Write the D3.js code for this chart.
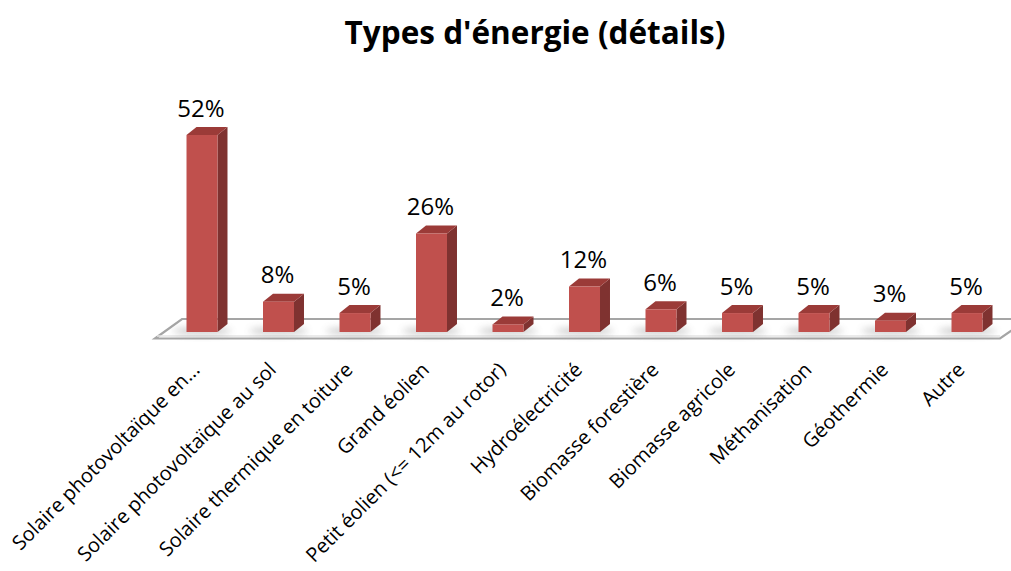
<!DOCTYPE html>
<html>
<head>
<meta charset="utf-8">
<script src="https://cdn.jsdelivr.net/npm/d3@7"></script>
<style>
  html, body { margin: 0; padding: 0; background: #fff; }
  svg { display: block; }
</style>
</head>
<body>
<svg id="chart" width="1011" height="571"></svg>
<script>
// Energy types, share of responses (%)
const categories = [
  "Solaire photovoltaïque en...",
  "Solaire photovoltaïque au sol",
  "Solaire thermique en toiture",
  "Grand éolien",
  "Petit éolien (<= 12m au rotor)",
  "Hydroélectricité",
  "Biomasse forestière",
  "Biomasse agricole",
  "Méthanisation",
  "Géothermie",
  "Autre"
];
const values = [52, 8, 5, 26, 2, 12, 6, 5, 5, 3, 5];
const valueLabels = ["52%", "8%", "5%", "26%", "2%", "12%", "6%", "5%", "5%", "3%", "5%"];
const title = "Types d'énergie (détails)";

const W = 1011, H = 571;
const svg = d3.select("#chart");

// layout of the plot area
const baseY = 332;            // front bottom of the bars
const depthX = 10, depthY = -8; // 3D depth offset of the bars
const fontFamily = "'Open Sans', 'DejaVu Sans', sans-serif";

const x = d3.scaleBand()
  .domain(categories)
  .range([163.75, 1005.25])
  .paddingInner(0.595)
  .paddingOuter(0.2975);

const y = d3.scaleLinear()
  .domain([0, 52])
  .range([baseY, 135]);

const defs = svg.append("defs");
defs.append("filter").attr("id", "soft")
  .attr("x", "-50%").attr("y", "-200%").attr("width", "200%").attr("height", "500%")
  .append("feGaussianBlur").attr("stdDeviation", 3.5);

// title
svg.append("text")
  .attr("x", 535).attr("y", 44)
  .attr("text-anchor", "middle")
  .style("font-family", fontFamily)
  .style("font-weight", "bold")
  .style("font-size", "31.5px")
  .attr("fill", "#000")
  .text(title);

// floor
const floorFront = 338.5, floorBack = 319;
const floorPts = [[155, floorFront], [182, floorBack], [1028, floorBack], [1000, floorFront]];
svg.append("polygon")
  .attr("points", floorPts.map(p => p.join(",")).join(" "))
  .attr("fill", "#fff")
  .attr("stroke", "#a5a5a5")
  .attr("stroke-width", 2.2)
  .attr("stroke-linejoin", "miter");
svg.append("line")
  .attr("x1", 157).attr("x2", 1000)
  .attr("y1", floorFront - 2.5).attr("y2", floorFront - 2.5)
  .attr("stroke", "#e4e4e4").attr("stroke-width", 1.5);

// soft shadows at the foot of the bars
svg.append("g").selectAll("ellipse")
  .data(categories)
  .join("ellipse")
  .attr("cx", d => x(d) + x.bandwidth() / 2)
  .attr("cy", baseY - 1)
  .attr("rx", x.bandwidth() * 0.95)
  .attr("ry", 3.5)
  .attr("fill", "#8a8a8a")
  .attr("opacity", 0.45)
  .attr("filter", "url(#soft)");

// 3D bars
const bars = svg.append("g").selectAll("g.bar")
  .data(categories.map((c, i) => ({ c, v: values[i], label: valueLabels[i] })))
  .join("g").attr("class", "bar");

bars.append("polygon") // right side face
  .attr("points", d => {
    const x1 = x(d.c) + x.bandwidth(), yt = y(d.v);
    return [[x1, baseY], [x1 + depthX, baseY + depthY], [x1 + depthX, yt + depthY], [x1, yt]]
      .map(p => p.join(",")).join(" ");
  })
  .attr("fill", "#7f3230");

bars.append("polygon") // top face
  .attr("points", d => {
    const x0 = x(d.c), x1 = x0 + x.bandwidth(), yt = y(d.v);
    return [[x0, yt], [x0 + depthX, yt + depthY], [x1 + depthX, yt + depthY], [x1, yt]]
      .map(p => p.join(",")).join(" ");
  })
  .attr("fill", "#9b3b38");

bars.append("rect") // front face
  .attr("x", d => x(d.c))
  .attr("y", d => y(d.v))
  .attr("width", x.bandwidth())
  .attr("height", d => baseY - y(d.v))
  .attr("fill", "#c0504d");

// value labels
bars.append("text")
  .attr("x", d => x(d.c) + x.bandwidth() / 2 - 1)
  .attr("y", d => y(d.v) + depthY - 10.5)
  .attr("text-anchor", "middle")
  .style("font-family", fontFamily)
  .style("font-size", "24px")
  .attr("fill", "#000")
  .text(d => d.label);

// category axis labels, rotated
svg.append("g").selectAll("text")
  .data(categories)
  .join("text")
  .attr("transform", d => `translate(${x(d) + x.bandwidth() / 2 - 6},${366}) rotate(-45)`)
  .attr("text-anchor", "end")
  .attr("dy", "0.35em")
  .style("font-family", fontFamily)
  .style("font-size", "20px")
  .attr("fill", "#000")
  .text(d => d);
</script>
</body>
</html>
